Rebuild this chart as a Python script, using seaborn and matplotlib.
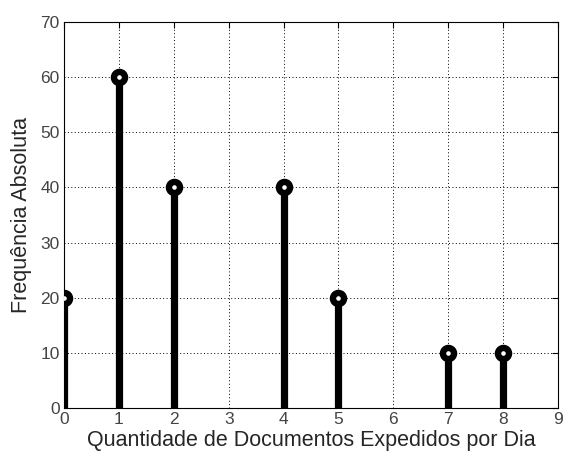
import matplotlib
matplotlib.use("Agg")
import matplotlib.pyplot as plt
import seaborn as sns
import pandas as pd

x_vals = [0, 1, 2, 4, 5, 7, 8]
freq = [20, 60, 40, 40, 20, 10, 10]
xticks = list(range(0, 10))
yticks = list(range(0, 80, 10))

sns.set_style("white")
plt.rcParams['font.family'] = ['Liberation Sans', 'DejaVu Sans']

df = pd.DataFrame({"x": x_vals, "y": freq})

fig = plt.figure(figsize=(5.76, 4.66), dpi=100)
ax = fig.add_axes([0.111, 0.1245, 0.858, 0.8285])

ax.vlines(df["x"], 0, df["y"], color="black", linewidth=5.2, zorder=3)
sns.scatterplot(data=df, x="x", y="y", ax=ax, marker="o", s=64,
                facecolor="white", edgecolor="black", linewidth=4.6, zorder=4, legend=False)

ax.set_xlim(0, 9)
ax.set_ylim(0, 70)
ax.set_xticks(xticks)
ax.set_yticks(yticks)
ax.grid(True, linestyle=(0, (1, 2.5)), color="black", linewidth=0.7)
for s in ax.spines.values():
    s.set_color("black")
    s.set_linewidth(0.8)
ax.tick_params(direction="in", length=4, top=True, right=True, labelsize=12.5,
               labelcolor="#444444", color="black", pad=3)
ax.set_xlabel("Quantidade de Documentos Expedidos por Dia", fontsize=15.5, labelpad=2)
ax.set_ylabel("Frequência Absoluta", fontsize=15.5, labelpad=6)

fig.savefig("out.png", dpi=100)
